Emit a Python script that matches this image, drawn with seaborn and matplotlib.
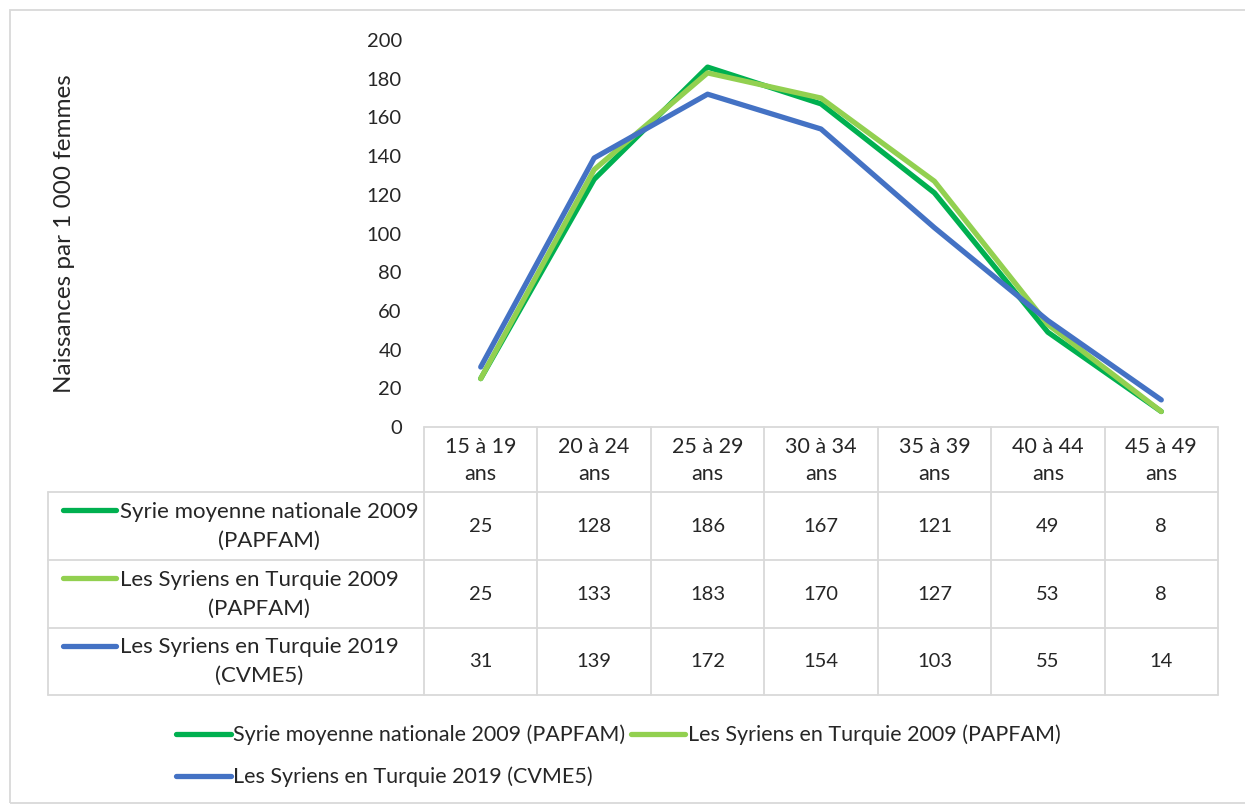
import pandas as pd
import matplotlib.pyplot as plt
from matplotlib.patches import Rectangle
import seaborn as sns

# data
age_groups = ["15 à 19 ans", "20 à 24 ans", "25 à 29 ans", "30 à 34 ans",
              "35 à 39 ans", "40 à 44 ans", "45 à 49 ans"]
syrie_2009 = [25, 128, 186, 167, 121, 49, 8]
turquie_2009 = [25, 133, 183, 170, 127, 53, 8]
turquie_2019 = [31, 139, 172, 154, 103, 55, 14]
series_names = ["Syrie moyenne nationale 2009 (PAPFAM)",
                "Les Syriens en Turquie 2009 (PAPFAM)",
                "Les Syriens en Turquie 2019 (CVME5)"]
table_names = ["Syrie moyenne nationale 2009\n(PAPFAM)",
               "Les Syriens en Turquie 2009\n(PAPFAM)",
               "Les Syriens en Turquie 2019\n(CVME5)"]
colors = ["#00B050", "#92D050", "#4472C4"]
y_ticks = [0, 20, 40, 60, 80, 100, 120, 140, 160, 180, 200]

sns.set_theme(style="white")
plt.rcParams['font.family'] = ['Lato', 'DejaVu Sans']

W, H = 1245, 805
fig = plt.figure(figsize=(W / 100, H / 100), dpi=100)

def px_axes(x0, y0, x1, y1):
    return fig.add_axes([x0 / W, 1 - y1 / H, (x1 - x0) / W, (y1 - y0) / H])

all_values = [syrie_2009, turquie_2009, turquie_2019]
df = pd.DataFrame({
    "age": age_groups * 3,
    "value": syrie_2009 + turquie_2009 + turquie_2019,
    "serie": [n for n in series_names for _ in age_groups],
})

fs_num = 14.5
fs_txt = 16
lw = 3.8
grid_col = "#D9D9D9"

# main line chart
ax = px_axes(424, 40, 1218, 427)
sns.lineplot(data=df, x="age", y="value", hue="serie", palette=colors,
             linewidth=lw, ax=ax, legend=True, sort=False)
handles, labels = ax.get_legend_handles_labels()
ax.get_legend().remove()
ax.set_xlim(-0.5, len(age_groups) - 0.5)
ax.set_ylim(0, 200)
ax.set_yticks(y_ticks)
ax.set_yticklabels([str(t) for t in y_ticks], fontsize=fs_num)
ax.tick_params(axis="y", length=0, pad=16)
ax.set_xticks([])
ax.set_xlabel("")
ax.set_ylabel("Naissances par 1 000 femmes", fontsize=17.5)
ax.yaxis.set_label_coords(-0.44, 0.5)
for s in ax.spines.values():
    s.set_visible(False)
ax.patch.set_alpha(0)

# data table underneath
tx0, tx1 = 48, 1218
col0 = 424
row_y = [427, 492, 560, 628, 695]
tab = px_axes(tx0, row_y[0], tx1, row_y[-1])
tab.set_xlim(tx0, tx1)
tab.set_ylim(row_y[-1], row_y[0])
tab.axis("off")
col_w = (tx1 - col0) / len(age_groups)
col_x = [col0 + i * col_w for i in range(len(age_groups) + 1)]

tab.plot([col0, tx1], [row_y[0]] * 2, color=grid_col, lw=1.3, clip_on=False)
for y in row_y[1:]:
    tab.plot([tx0, tx1], [y, y], color=grid_col, lw=1.3, clip_on=False)
for x in col_x:
    tab.plot([x, x], [row_y[0], row_y[-1]], color=grid_col, lw=1.3, clip_on=False)
tab.plot([tx0, tx0], [row_y[1], row_y[-1]], color=grid_col, lw=1.3, clip_on=False)

for i, g in enumerate(age_groups):
    cx = (col_x[i] + col_x[i + 1]) / 2
    tab.text(cx, (row_y[0] + row_y[1]) / 2 + 1, g.replace(" ans", "\nans"),
             ha="center", va="center", fontsize=15.5, linespacing=1.4)
for r, (vals, name, c) in enumerate(zip(all_values, table_names, colors)):
    cy = (row_y[r + 1] + row_y[r + 2]) / 2
    for i, v in enumerate(vals):
        cx = (col_x[i] + col_x[i + 1]) / 2
        tab.text(cx, cy, str(v), ha="center", va="center", fontsize=fs_num)
    tab.text(120, cy, name, ha="left", va="center", multialignment="center",
             fontsize=fs_txt, linespacing=1.55)
    tab.plot([63, 116], [cy - 16, cy - 16], color=c, lw=lw, solid_capstyle="round")

# legend at the bottom
order = [0, 2, 1]
leg = fig.legend([handles[i] for i in order], [labels[i] for i in order],
                 ncol=2, loc="upper left", bbox_to_anchor=(167 / W, 1 - 716 / H),
                 frameon=False, fontsize=15.5, handlelength=2.55, handletextpad=0.12,
                 columnspacing=0.25, labelspacing=1.0, borderaxespad=0)
for line in leg.get_lines():
    line.set_linewidth(lw)
    line.set_solid_capstyle("round")

# outer chart border
fig.patches.append(Rectangle((10 / W, 0.002), 1.2, 1 - 10 / H - 0.002,
                             transform=fig.transFigure, fill=False,
                             edgecolor=grid_col, lw=1.3))

fig.savefig("out.png", dpi=100)
